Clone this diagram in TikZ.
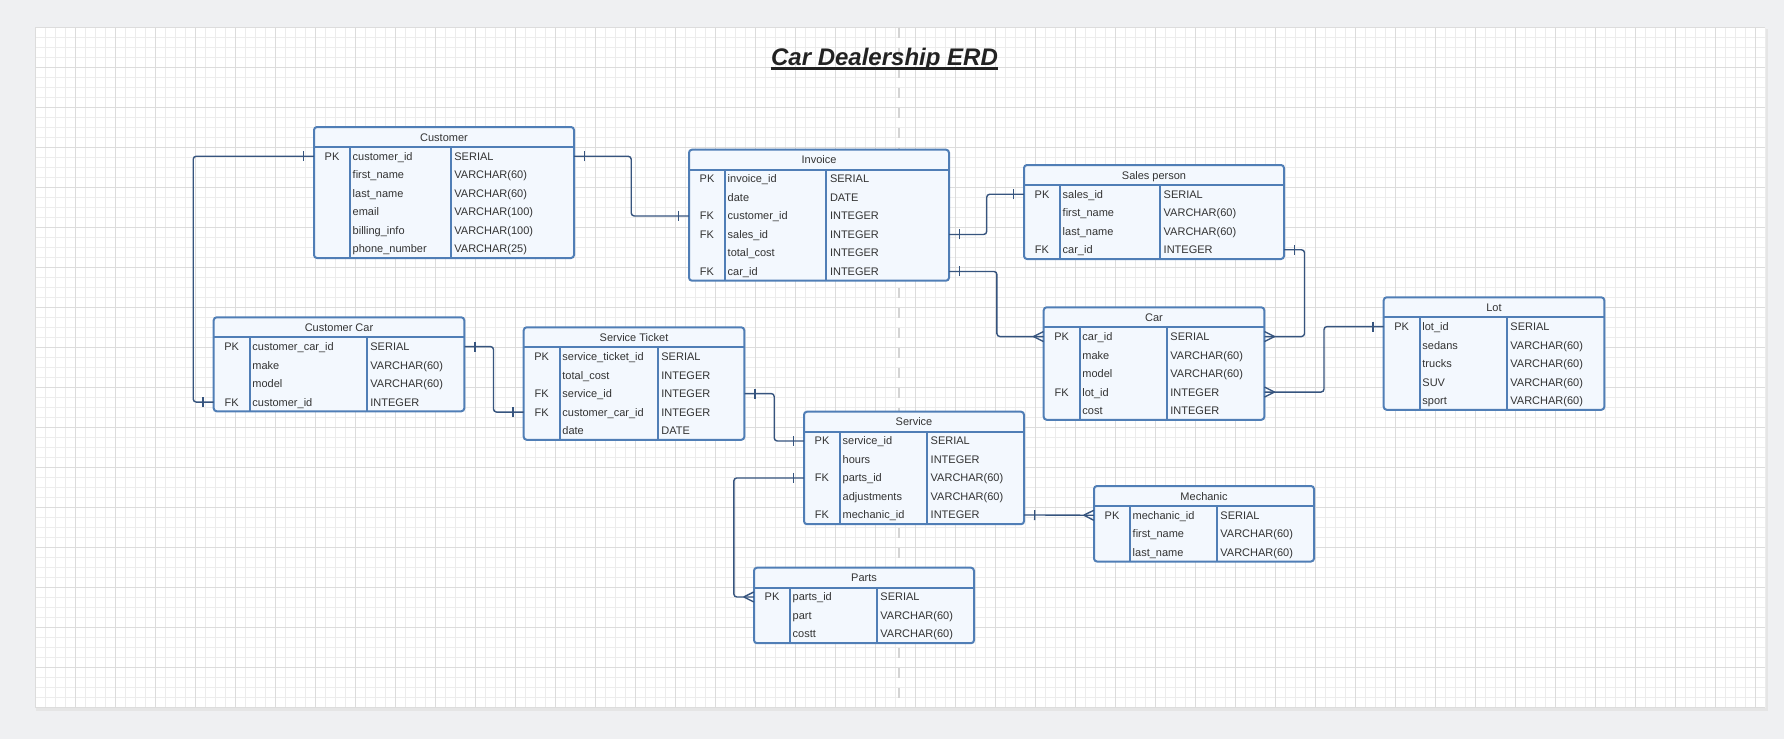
\documentclass[tikz,border=0pt]{standalone}
\usepackage{fontspec}
\setmainfont{Liberation Sans}
\usetikzlibrary{calc,positioning,decorations.markings}

\definecolor{pagebg}{RGB}{239,240,242}
\definecolor{gridminor}{RGB}{236,236,236}
\definecolor{gridmajor}{RGB}{220,220,220}
\definecolor{breakline}{RGB}{212,212,212}
\definecolor{tblborder}{RGB}{80,126,182}
\definecolor{tblfill}{RGB}{243,248,254}
\definecolor{relline}{RGB}{54,84,126}
\definecolor{inktext}{RGB}{51,51,51}
\definecolor{titleink}{RGB}{34,34,34}

% one table: name, top left corner, width, field column width, rows, title, fields
\newcommand{\erdtable}[7]{%
  \begin{scope}[shift={(#2)}]
    \draw[tblbox] (0,0) rectangle (#3,20+18.5*#5);
    \draw[tblline] (0,20) -- (#3,20);
    \draw[tblline] (36,20) -- (36,20+18.5*#5);
    \draw[tblline] (36+#4,20) -- (36+#4,20+18.5*#5);
    \node[cell, anchor=base] (#1-title) at (#3/2,14) {#6};
    \foreach \pk/\fld/\typ [count=\r] in {#7} {
      \node[rowslot, minimum width=#3] (#1-\r) at (#3/2,10.75+18.5*\r) {};
      \node[cell, anchor=base] (#1-\r-key) at (18,14.75+18.5*\r) {\pk};
      \node[cell, anchor=base west] (#1-\r-field) at (38.5,14.75+18.5*\r) {\fld};
      \node[cell, anchor=base west] (#1-\r-type) at (39.5+#4,14.75+18.5*\r) {\typ};
    }
  \end{scope}}

\begin{document}
\begin{tikzpicture}[x=1pt, y=-1pt,
    tblbox/.style={draw=tblborder, fill=tblfill, line width=2pt, rounded corners=3pt},
    tblline/.style={draw=tblborder, line width=2pt},
    cell/.style={inner sep=0pt, text=inktext, font=\fontsize{11}{13}\selectfont},
    rowslot/.style={inner sep=0pt, minimum height=18.5pt},
    rel/.style={draw=relline, line width=1.4pt, rounded corners=3pt},
    one start/.style={postaction={decorate, decoration={markings,
      mark=at position 10.5pt with {\draw[relline, line width=1.4pt] (0,-5pt) -- (0,5pt);}}}},
    one end/.style={postaction={decorate, decoration={markings,
      mark=at position -10.5pt with {\draw[relline, line width=1.4pt] (0,-5pt) -- (0,5pt);}}}},
    many end/.style={postaction={decorate, decoration={markings,
      mark=at position 1 with {\draw[relline, line width=1.4pt] (-10pt,0) -- (0,5pt) (-10pt,0) -- (0,-5pt);}}}}]
    \useasboundingbox (0,0) rectangle (1784,739);

    % canvas and page
    \fill[pagebg] (0,0) rectangle (1784,739);
    \fill[gray!20] (36,29) rectangle (1768,711);
    \fill[white] (35,27.5) rectangle (1765,707.5);
    \begin{scope}[shift={(35,27.5)}]
        \draw[gridminor, line width=0.6pt, step=10pt] (0,0) grid (1730,680);
        \draw[gridmajor, line width=1pt, step=40pt] (0,0) grid (1730,680);
    \end{scope}
    \draw[breakline, line width=2.5pt, dash pattern=on 10pt off 10pt] (899,27.5) -- (899,707.5);

    % title
    \node[inner sep=0pt, anchor=base, text=titleink, font=\fontsize{24}{28}\selectfont\bfseries\itshape]
        (title) at (884.5,65) {Car Dealership ERD};
    \draw[titleink, line width=2.5pt] ([yshift=-3.5pt]title.base west) -- ([yshift=-3.5pt]title.base east);

    % tables
    \erdtable{cust}{314,127}{260}{100.7}{6}{Customer}{PK/customer\_id/SERIAL,
        /first\_name/VARCHAR(60), /last\_name/VARCHAR(60), /email/VARCHAR(100),
        /billing\_info/VARCHAR(100), /phone\_number/VARCHAR(25)}
    \erdtable{inv}{689,149.7}{260}{101.3}{6}{Invoice}{PK/invoice\_id/SERIAL,
        /date/DATE, FK/customer\_id/INTEGER, FK/sales\_id/INTEGER,
        /total\_cost/INTEGER, FK/car\_id/INTEGER}
    \erdtable{sales}{1024,165}{260}{100}{4}{Sales person}{PK/sales\_id/SERIAL,
        /first\_name/VARCHAR(60), /last\_name/VARCHAR(60), FK/car\_id/INTEGER}
    \erdtable{ccar}{213.7,317.3}{250.6}{117}{4}{Customer Car}{PK/customer\_car\_id/SERIAL,
        /make/VARCHAR(60), /model/VARCHAR(60), FK/customer\_id/INTEGER}
    \erdtable{tick}{523.7,327.3}{220.6}{98}{5}{Service Ticket}{PK/service\_ticket\_id/SERIAL,
        /total\_cost/INTEGER, FK/service\_id/INTEGER, FK/customer\_car\_id/INTEGER, /date/DATE}
    \erdtable{car}{1043.7,307.3}{220.6}{87}{5}{Car}{PK/car\_id/SERIAL,
        /make/VARCHAR(60), /model/VARCHAR(60), FK/lot\_id/INTEGER, /cost/INTEGER}
    \erdtable{lot}{1383.7,297.3}{220.6}{87}{5}{Lot}{PK/lot\_id/SERIAL,
        /sedans/VARCHAR(60), /trucks/VARCHAR(60), /SUV/VARCHAR(60), /sport/VARCHAR(60)}
    \erdtable{serv}{804,411.7}{220}{87}{5}{Service}{PK/service\_id/SERIAL,
        /hours/INTEGER, FK/parts\_id/VARCHAR(60), /adjustments/VARCHAR(60), FK/mechanic\_id/INTEGER}
    \erdtable{mech}{1094,486}{220}{86.7}{3}{Mechanic}{PK/mechanic\_id/SERIAL,
        /first\_name/VARCHAR(60), /last\_name/VARCHAR(60)}
    \erdtable{parts}{754,567.7}{220}{86.7}{3}{Parts}{PK/parts\_id/SERIAL,
        /part/VARCHAR(60), /costt/VARCHAR(60)}

    % relations
    \draw[rel, one start, one end] (cust-1.west) -- ++(-120.6,0) |- (ccar-4.west);
    \draw[rel, one start, one end] (cust-1.east) -- ++(57,0) |- (inv-3.west);
    \draw[rel, one start, one end] (inv-4.east) -- ++(37.5,0) |- (sales-1.west);
    \draw[rel, one start, many end] (inv-6.east) -- ++(47.7,0) |- (car-1.west);
    \draw[rel, one start, many end] (sales-4.east) -- ++(20.3,0) |- (car-1.east);
    \draw[rel, one start, many end] (lot-1.west) -- ++(-59.5,0) |- (car-4.east);
    \draw[rel, one start, one end] (ccar-1.east) -- ++(29,0) |- (tick-4.west);
    \draw[rel, one start, one end] (tick-3.east) -- ++(29.7,0) |- (serv-1.west);
    \draw[rel, one start, many end] (serv-3.west) -- ++(-70,0) |- (parts-1.west);
    \draw[rel, one start, many end] (serv-5.east) -- (mech-1.west);
\end{tikzpicture}
\end{document}
